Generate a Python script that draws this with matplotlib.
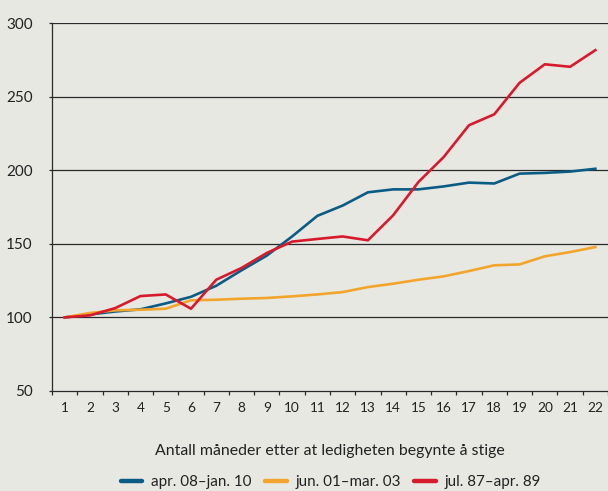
import numpy as np
import matplotlib
matplotlib.use("Agg")
import matplotlib.pyplot as plt
from matplotlib.lines import Line2D

# months since unemployment started rising
months = list(range(1, 23))

# index, month 1 = 100
apr08_jan10 = [100, 102, 104, 105.5, 109.5, 114, 121.5, 132, 142, 155, 169, 176,
               185, 187, 187, 189, 191.6, 191, 197.7, 198.2, 199.1, 201]
jun01_mar03 = [100, 103, 104.8, 105.2, 105.9, 111.6, 112, 112.7, 113.2, 114.3, 115.6, 117.2,
               120.6, 122.9, 125.6, 127.9, 131.5, 135.4, 136, 141.5, 144.4, 147.8]
jul87_apr89 = [100, 101.4, 106.3, 114.5, 115.6, 105.9, 125.6, 133.6, 143.8, 151.5, 153.3, 155,
               152.4, 169.4, 192, 209, 230.6, 238, 259.4, 272, 270.3, 281.6]

series_labels = ["apr. 08–jan. 10", "jun. 01–mar. 03", "jul. 87–apr. 89"]
colors = ["#0b5c85", "#f2a52c", "#d71a2c"]
yticks = [50, 100, 150, 200, 250, 300]
xlabel = "Antall måneder etter at ledigheten begynte å stige"

bg = "#e8e8e3"
plt.rcParams["font.family"] = ["Lato", "DejaVu Sans"]

fig = plt.figure(figsize=(6.08, 4.91), dpi=100, facecolor=bg)
ax = fig.add_axes([0.0855, 0.2037, 0.9145, 0.7493], facecolor=bg)

for vals, c in zip([apr08_jan10, jun01_mar03, jul87_apr89], colors):
    ax.plot(months, vals, color=c, lw=1.9, solid_joinstyle="round", zorder=3)

ax.set_xlim(0.5, 22.5)
ax.set_ylim(50, 300)
ax.set_yticks(yticks)
ax.set_yticklabels([str(v) for v in yticks], fontsize=11, color="#222222")
for v in yticks[1:]:
    ax.axhline(v, color="#2a2a2a", lw=0.9, zorder=1)

ax.set_xticks(months)
ax.set_xticklabels([str(m) for m in months], fontsize=9.8, color="#222222")
ax.set_xticks(np.arange(0.5, 23, 1), minor=True)
ax.tick_params(axis="x", which="major", length=0, pad=8)
ax.tick_params(axis="x", which="minor", length=3, color="#2a2a2a", width=0.9)
ax.tick_params(axis="y", length=2, color="#2a2a2a", width=0.9, pad=12)

for s in ["top", "right"]:
    ax.spines[s].set_visible(False)
for s in ["left", "bottom"]:
    ax.spines[s].set_color("#2a2a2a")
    ax.spines[s].set_linewidth(0.9)

fig.text(0.543, 0.0815, xlabel, ha="center", va="center", fontsize=11.4, color="#222222")

handles = [Line2D([0], [0], color=c, lw=3.2, solid_capstyle="round") for c in colors]
fig.legend(handles, series_labels, loc="center", bbox_to_anchor=(0.544, 0.0183),
           ncol=3, frameon=False, fontsize=10.9, handlelength=1.45,
           handletextpad=0.55, columnspacing=0.9, labelcolor="#222222",
           borderpad=0, borderaxespad=0)

fig.savefig("out.png", dpi=100, facecolor=bg)
